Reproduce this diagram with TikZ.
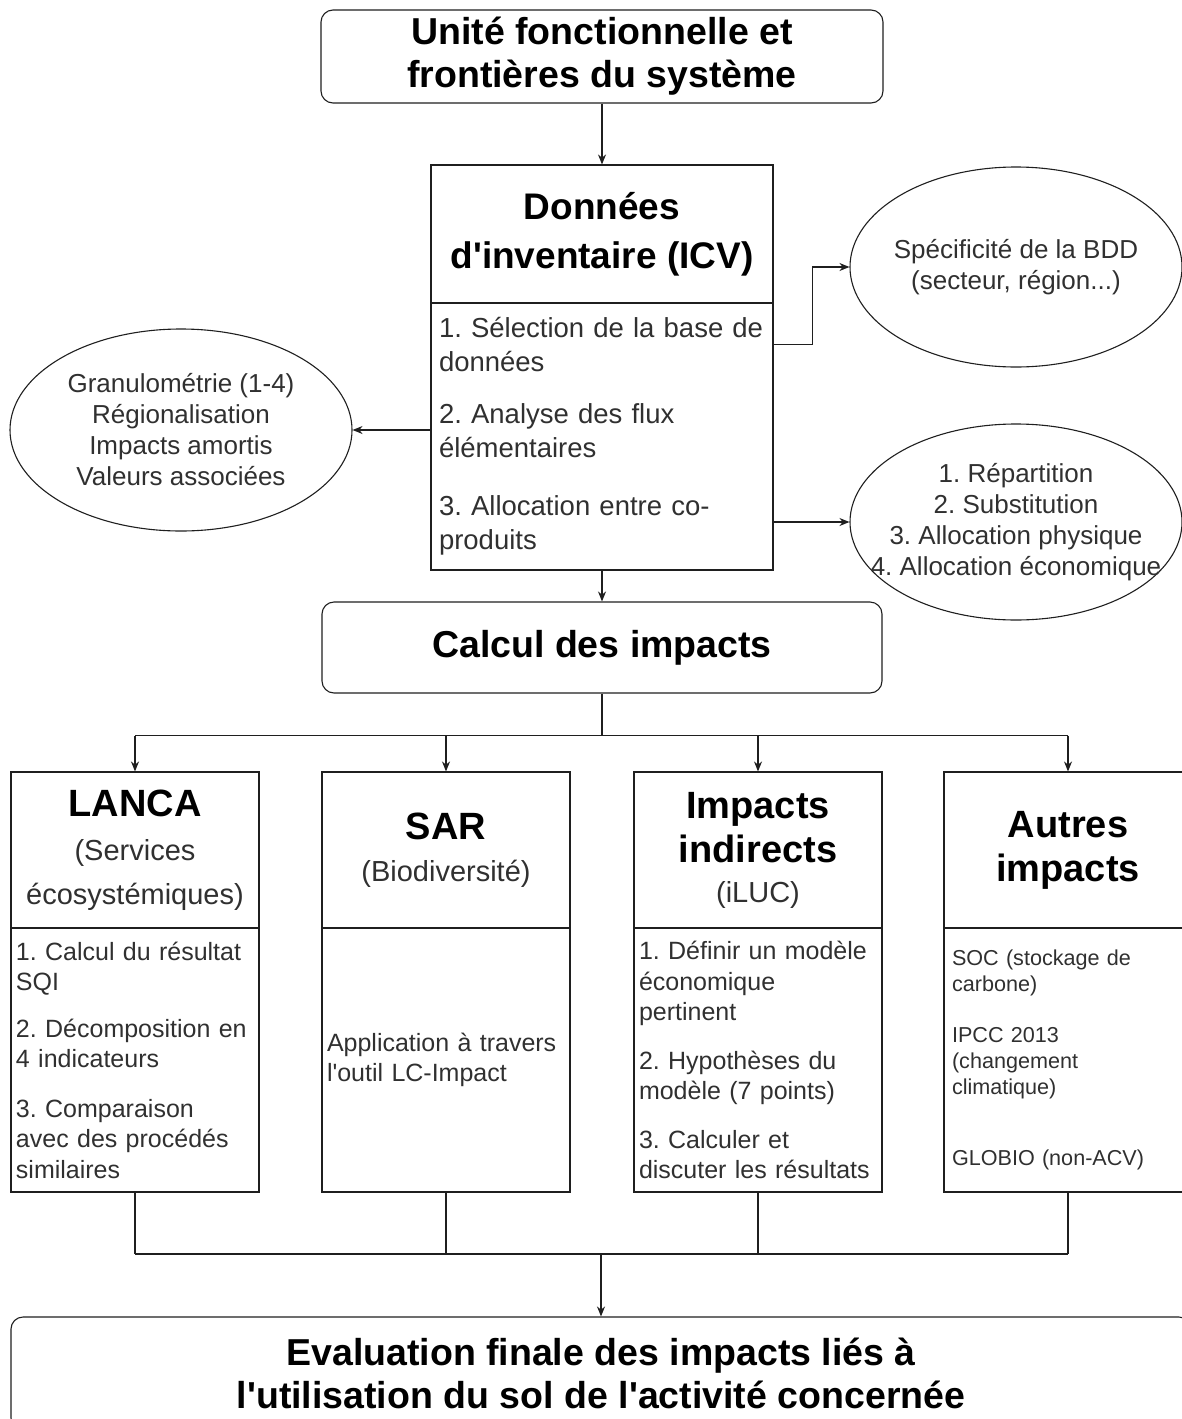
\documentclass[tikz,border=0pt]{standalone}
\usepackage{fontspec}
\setmainfont{Liberation Sans}
\usetikzlibrary{arrows.meta, positioning, shapes.geometric, calc}
\definecolor{lineDark}{HTML}{1F1F1F}
\definecolor{textDark}{HTML}{303030}
\newcommand{\hd}[1]{{\fontsize{38pt}{44pt}\selectfont\bfseries\color{black}#1}}
\newcommand{\apost}{\textquotesingle}
\newcommand{\nohyph}{\frenchspacing\hyphenpenalty=10000\exhyphenpenalty=10000}

\begin{document}
\begin{tikzpicture}[x=1pt, y=-1pt, >={Stealth[length=10pt,width=8pt]},
    every node/.style={text=textDark},
    titlebox/.style={draw=lineDark, line width=1.1pt, rounded corners=12pt, align=center,
                     font=\fontsize{37.5pt}{43pt}\selectfont\bfseries, text=black},
    icvhead/.style={draw=lineDark, line width=1.1pt, minimum width=342pt, minimum height=138pt,
                    align=center, font=\fontsize{37pt}{49pt}\selectfont\bfseries, text=black},
    icvbody/.style={draw=lineDark, line width=1.1pt, minimum width=342pt, minimum height=267pt,
                    text width=326pt, inner xsep=8pt, align=left,
                    font=\fontsize{27.5pt}{34pt}\selectfont\nohyph},
    headbox/.style={draw=lineDark, line width=1.1pt, minimum width=248pt, minimum height=156pt,
                    align=center, inner sep=0pt, font=\fontsize{29pt}{44pt}\selectfont},
    bodybox/.style={draw=lineDark, line width=1.1pt, minimum width=248pt, minimum height=264pt,
                    text width=238pt, inner xsep=5pt, align=left,
                    font=\fontsize{25pt}{30.5pt}\selectfont\nohyph},
    oval/.style={draw=lineDark, line width=1.1pt, ellipse, inner sep=0pt},
    ovaltext/.style={align=center, font=\fontsize{26pt}{31pt}\selectfont\nohyph},
    flow/.style={->, line width=1.1pt, draw=lineDark},
    link/.style={line width=1.1pt, draw=lineDark}]

  \useasboundingbox (0,0) rectangle (1182,1419);

  \node[titlebox, minimum width=562pt, minimum height=93pt] (ufs) at (602,56.5)
        {Unité fonctionnelle et\\frontières du système};
  \node[icvhead] (icv)  at (602,234)   {Données\\d\apost inventaire (ICV)};
  \node[icvbody] (icvb) at (602,436.5) {1. Sélection de la base de\\données\\[18pt]
        2. Analyse des flux\\élémentaires\\[24pt]3. Allocation entre co-\\produits};
  \node[titlebox, minimum width=560pt, minimum height=91pt] (calc) at (602,647.5) {Calcul des impacts};

  % ellipses
  \node[oval, minimum width=342pt, minimum height=202pt] (gran)  at (181,430)  {};
  \node[oval, minimum width=332pt, minimum height=200pt] (bdd)   at (1016,267) {};
  \node[oval, minimum width=332pt, minimum height=196pt] (alloc) at (1016,522) {};
  \node[ovaltext] (grant)  at (gran)  {Granulométrie (1-4)\\Régionalisation\\Impacts amortis\\Valeurs associées};
  \node[ovaltext] (bddt)   at (bdd)   {Spécificité de la BDD\\(secteur, région...)};
  \node[ovaltext] (alloct) at (alloc) {1. Répartition\\2. Substitution\\3. Allocation physique\\4. Allocation économique};

  \draw[flow] (ufs) -- (icv);
  \draw[flow] (icvb) -- (calc);
  \draw[flow] (icvb.west |- gran.east) -- (gran.east);
  \draw[flow] ([yshift=-42pt]icvb.north east) -- ++(39,0) |- (bdd.west);
  \draw[flow] (icvb.east |- alloc.west) -- (alloc.west);

  % methods
  \node[headbox] (lanca)  at (135,850)  {\hd{LANCA}\\(Services\\écosystémiques)};
  \node[headbox] (sar)    at (446,850)  {\hd{SAR}\\[-2pt](Biodiversité)};
  \node[headbox] (iluc)   at (758,850)  {\hd{Impacts}\\\hd{indirects}\\[-4pt](iLUC)};
  \node[headbox] (autres) at (1068,850) {\hd{Autres}\\\hd{impacts}};

  \node[bodybox] (lancab)  at (135,1060)  {1. Calcul du résultat\\SQI\\[16pt]2. Décomposition en\\4 indicateurs\\[19pt]
        3. Comparaison\\avec des procédés\\similaires};
  \node[bodybox] (sarb)    at (446,1060)  {Application à travers\\l\apost outil LC-Impact};
  \node[bodybox] (ilucb)   at (758,1060)  {1. Définir un modèle\\économique\\pertinent\\[18pt]
        2. Hypothèses du\\modèle (7 points)\\[18pt]3. Calculer et\\discuter les résultats};
  \node[bodybox, inner xsep=8pt, text width=232pt, font=\fontsize{21.6pt}{26pt}\selectfont\nohyph] (autresb) at (1068,1060)
        {SOC (stockage de\\carbone)\\[25pt]IPCC 2013\\(changement\\climatique)\\[45pt]GLOBIO (non-ACV)};

  \node[titlebox, minimum width=1180pt, minimum height=113pt] (final) at (601,1373.5)
        {Evaluation finale des impacts liés à\\l\apost utilisation du sol de l\apost activité concernée};

  \draw[link] (calc.south) -- ++(0,42) coordinate (split);
  \draw[link] (lanca.north |- split) -- (autres.north |- split);
  \foreach \b in {lanca,sar,iluc,autres} {
    \draw[flow] (\b.north |- split) -- (\b.north);
  }

  \coordinate (merge) at (601,1254);
  \foreach \b in {lancab,sarb,ilucb,autresb} {
    \draw[link] (\b.south) -- (\b.south |- merge);
  }
  \draw[link] (lancab.south |- merge) -- (autresb.south |- merge);
  \draw[flow] (final.north |- merge) -- (final.north);

\end{tikzpicture}
\end{document}
